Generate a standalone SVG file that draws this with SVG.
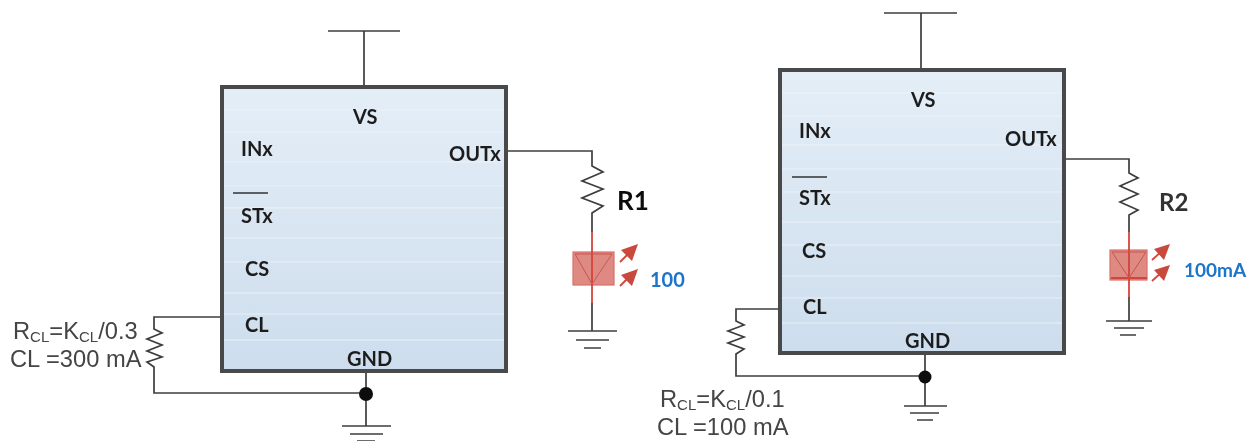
<svg xmlns="http://www.w3.org/2000/svg" width="1249" height="441" viewBox="0 0 1249 441">
<style>
.w{fill:none;stroke:#3c3c3c;stroke-width:1.7}
.r{fill:none;stroke:#d2453c;stroke-width:1.8}
.t{fill:none;stroke:#c4564c;stroke-width:1}
.box{stroke:#484848;stroke-width:4}
.band{stroke:#f1f6fa;stroke-width:1;opacity:.7}
.p{font-family:"Lato","Liberation Sans",sans-serif;font-weight:700;font-size:20px;fill:#1e1e1e}
.f{font-family:"Liberation Sans",sans-serif;font-size:23.7px;fill:#444}
.s{font-size:15px}
.led{fill:#d9766e;stroke:#d2574e;stroke-width:1.2;opacity:.85}
.ar{fill:#c9483c}
.soft{filter:url(#b)}
</style>
<defs>
<linearGradient id="g" x1="0" y1="0" x2="0" y2="1"><stop offset="0" stop-color="#e4eef7"/><stop offset="1" stop-color="#cddded"/></linearGradient>
<filter id="b" x="-5%" y="-5%" width="110%" height="110%"><feGaussianBlur stdDeviation="0.4"/></filter>
</defs>
<g id="chip1" class="soft">
<rect class="box" x="222" y="87" width="284" height="284" fill="url(#g)"/>
<path class="band" d="M224 110H504M224 132H504M224 162H504M224 186H504M224 208H504M224 238H504M224 262H504M224 293H504M224 314H504M224 340H504"/>
<text class="p" x="353" y="124">VS</text>
<text class="p" x="241" y="156">INx</text>
<path d="M233 193H268" stroke="#333" stroke-width="1.4"/>
<text class="p" x="241" y="223">STx</text>
<text class="p" x="245" y="276">CS</text>
<text class="p" x="245" y="332">CL</text>
<text class="p" x="347" y="366">GND</text>
<text class="p" x="449" y="161">OUTx</text>
</g>
<g id="chip2" class="soft">
<rect class="box" x="780" y="70" width="284" height="283" fill="url(#g)"/>
<path class="band" d="M782 93H1062M782 116H1062M782 145H1062M782 169H1062M782 192H1062M782 222H1062M782 245H1062M782 276H1062M782 298H1062M782 323H1062"/>
<text class="p" x="911" y="107">VS</text>
<text class="p" x="799" y="138">INx</text>
<path d="M792 177H827" stroke="#333" stroke-width="1.4"/>
<text class="p" x="799" y="205">STx</text>
<text class="p" x="802" y="258">CS</text>
<text class="p" x="803" y="314">CL</text>
<text class="p" x="905" y="348">GND</text>
<text class="p" x="1005" y="146">OUTx</text>
</g>
<g id="connectors" class="soft">
<path class="w" d="M328 31H400M364 31V85"/>
<path class="w" d="M366 373V426M342 426H391M350 434H383M357 441H375"/>
<path class="w" d="M220 317H154V329L162 333L147 339L162 345L147 351L162 357L147 362L154 367V393H366"/>
<path class="w" d="M508 151H592V166L603 172L582 181L603 189L582 198L603 206L592 213V232"/>
<path class="w" d="M592 303V331M568 331H617M576 340H609M584 348H601"/>
<path class="w" d="M884 13H957M921 13V68"/>
<path class="w" d="M925 355V406M904 406H947M910 413H939M917 420H933"/>
<path class="w" d="M778 309H736V321L744 325L728 331L744 337L728 343L744 349L736 354V376H925"/>
<path class="w" d="M1066 159H1129V173L1138 178L1120 186L1138 194L1120 202L1138 210L1129 215V232"/>
<path class="w" d="M1129 297V321M1106 321H1152M1114 328H1144M1120 335H1136"/>
<circle cx="366" cy="394" r="7" fill="#111"/>
<circle cx="925" cy="377" r="6.5" fill="#111"/>
</g>
<g id="led1" class="soft">
<rect class="led" x="573" y="252" width="41" height="33"/>
<path class="r" d="M592 232V303"/>
<path class="t" d="M575 254H612L592 284Z"/>
<path class="r" d="M620 262L630 252M620 286L630 276"/>
<path class="ar" d="M638 244L632 261L621 250ZM638 269L632 286L621 275Z"/>
<text class="p" x="650" y="287" style="fill:#1b75c9">100</text>
</g>
<g id="led2" class="soft">
<rect class="led" x="1110" y="250" width="37" height="30"/>
<path class="r" d="M1129 232V297M1111 278H1147"/>
<path class="t" d="M1112 252H1146L1129 278Z"/>
<path class="r" d="M1152 260L1162 251M1152 281L1162 272"/>
<path class="ar" d="M1170 244L1164 260L1154 249ZM1170 265L1164 281L1154 270Z"/>
<text class="p" x="1184" y="277" style="fill:#1b75c9;font-size:19px">100mA</text>
</g>
<g id="labels" class="soft">
<text class="p" x="617" y="210" style="font-size:26px;fill:#111">R1</text>
<text class="p" x="1159" y="211" style="font-size:24px;fill:#333">R2</text>
<text class="f" x="13" y="339">R<tspan class="s" dy="3">CL</tspan><tspan dy="-3">=K</tspan><tspan class="s" dy="3">CL</tspan><tspan dy="-3">/0.3</tspan></text>
<text class="f" x="10" y="367">CL =300 mA</text>
<text class="f" x="660" y="407">R<tspan class="s" dy="3">CL</tspan><tspan dy="-3">=K</tspan><tspan class="s" dy="3">CL</tspan><tspan dy="-3">/0.1</tspan></text>
<text class="f" x="657" y="435">CL =100 mA</text>
</g>
</svg>
